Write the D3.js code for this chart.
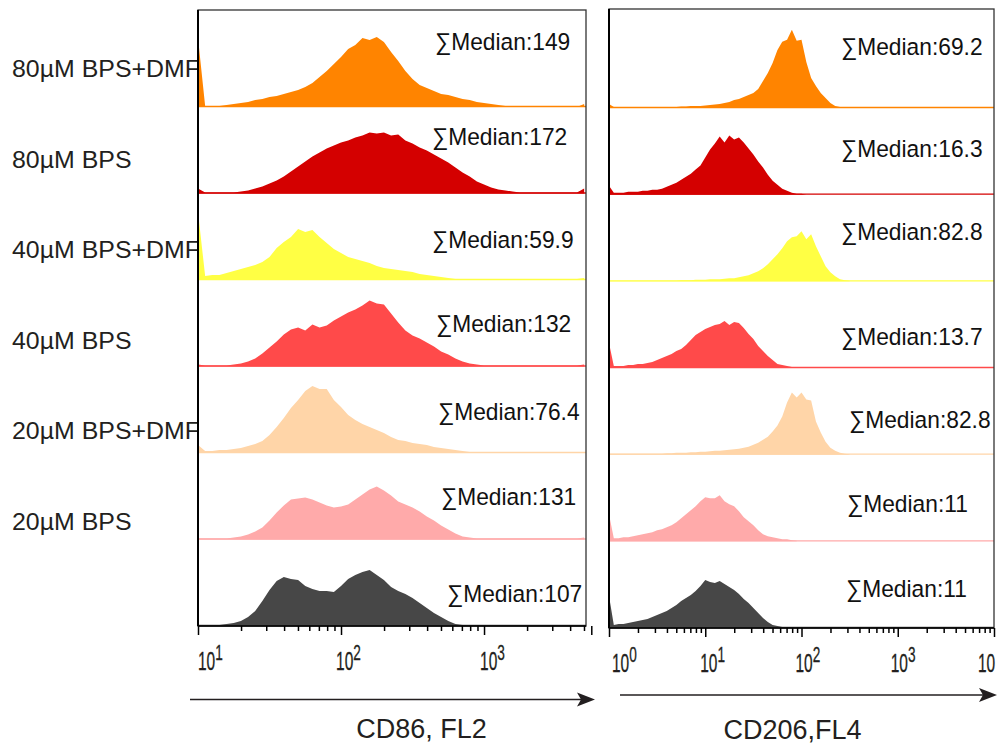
<!DOCTYPE html>
<html><head><meta charset="utf-8">
<script src="https://cdn.jsdelivr.net/npm/d3@7/dist/d3.min.js"></script>
<style>body{margin:0;background:#fff}svg{display:block}</style>
</head><body>
<svg id="c" width="997" height="744"></svg>
<script>
// ---------------- DATA ----------------
const rowLabels = ["80µM BPS+DMF","80µM BPS","40µM BPS+DMF","40µM BPS","20µM BPS+DMF","20µM BPS",""];
const cd86Medians  = ["149","172","59.9","132","76.4","131","107"];
const cd206Medians = ["69.2","16.3","82.8","13.7","82.8","11","11"];
const cd86TickExps  = [1,2,3];
const cd206TickExps = [0,1,2,3,4];
const cd206TickText = ["0","1","2","3",""];   // last exponent falls outside the picture
const xTitles = ["CD86, FL2","CD206,FL4"];

// histogram bins: log10 position of first bin and bin width (decades)
const cd86BinStart = 1.0, cd86BinStep = 0.05;
const cd206BinStart = 0.0, cd206BinStep = 0.05;

// CD86 (FL2) event counts per bin, rows top to bottom
const cd86_80DMF = [69,1,1,1,2,3,4,5,7,8, 10,11,13,15,17,20,24,30,36,43, 50,58,62,69,67,70,65,55,46,36, 28,22,19,16,13,12,10,8,7,5, 4,3,2,1,0,0,0,0,0,0, 0,0,0,0,3];
const cd86_80    = [5,1,1,1,1,1,2,3,5,7, 10,13,17,22,27,32,37,41,45,48, 51,53,56,58,61,60,61,58,59,53, 50,46,43,39,35,31,26,21,17,12, 9,6,4,3,2,1,1,1,1,1, 1,1,1,1,5];
const cd86_40DMF = [68,4,5,5,7,9,11,13,15,18, 23,32,38,43,51,48,50,43,37,31, 27,23,21,19,17,14,12,11,10,9, 8,6,5,4,3,2,1,1,1,1, 1,1,1,1,1,1,1,1,1,1, 1,1,1,1,2];
const cd86_40    = [2,1,1,1,1,2,3,5,8,13, 19,25,32,37,39,36,42,39,41,46, 50,54,57,61,66,63,62,53,44,36, 31,28,24,20,15,12,8,5,3,2, 1,1,1,1,1,1,1,1,1,1, 1,1,1,1,2];
const cd86_20DMF = [8,2,2,3,3,4,5,7,9,12, 18,26,35,45,53,62,67,64,64,53, 46,38,33,29,26,23,20,16,13,12, 10,9,8,6,5,4,3,2,1,1, 1,1,1,1,1,1,1,1,1,1, 1,1,1,1,1];
const cd86_20    = [1,1,1,1,1,2,3,5,8,12, 19,27,34,40,41,42,40,37,34,32, 33,35,40,45,50,53,49,44,38,35, 32,28,23,19,14,10,6,3,2,1, 1,1,1,1,1,1,1,1,1,1, 1,1,1,1,2];
const cd86_ctrl  = [0,0,0,1,2,3,5,9,15,25, 36,45,49,47,46,40,37,35,35,34, 40,47,51,54,56,51,46,39,35,32, 28,23,18,13,9,5,2,1,0,0, 0,0,0,0,0,0,0,0,0,0, 0,0,0,0,0];

// CD206 (FL4) event counts per bin, rows top to bottom
const cd206_80DMF = [4,1,0.5,0.5,0.5,0.5,0.5,0.5,1,1, 1,1,1,1,1,1.5,1.5,2,2,2, 2.5,3,3.5,4,5,6,8,9,11,13, 15,19,27,35,45,58,66,68,78,67, 68,46,30,22,15,10,5,2,1,0];
const cd206_80    = [9,2,2,2,3,3,3,4,4,5, 5,6,8,10,12,15,18,21,25,29, 37,45,51,58,52,59,55,57,52,46, 40,33,27,20,14,10,6,4,2,1, 1,0];
const cd206_40DMF = [0.5,0.5,0.5,0.5,0.5,0.5,0.5,0.5,0.5,0.5, 0.5,0.5,0.5,0.5,0.5,1,1,1,1.5,1.5, 1.5,2,2,2,2.5,3,3,4,5,6, 8,10,13,17,22,27,33,40,44,45, 50,42,47,35,25,15,9,5,2,1, 0.5];
const cd206_40    = [25,2,2,2,3,3,4,4,5,6, 8,10,12,14,17,19,23,28,33,36, 39,41,43,44,47,43,46,45,40,34, 29,22,17,12,8,4,3,2,1,0];
const cd206_20DMF = [1,1,1,1,1,1,1,1,1,1, 1,1,1.5,1.5,2,2,2,2.5,2.5,3, 3,3.5,4,4,4.5,5,5.5,6,7,8, 10,12,15,18,23,29,38,52,62,57, 62,55,54,33,22,13,7,4,2,1, 0.5];
const cd206_20    = [27,3,3,4,4,5,6,7,8,9, 11,12,14,16,19,23,27,31,35,40, 44,43,43,46,40,37,35,30,24,20, 16,11,7,5,4,3,2,2,1,0.5];
const cd206_ctrl  = [32,3,4,4,5,6,7,8,9,11, 13,15,17,20,23,27,30,33,37,42, 48,46,45,47,44,41,38,34,29,25, 20,15,10,6,3,2,1,0];

// ---------------- STYLE / LAYOUT ----------------
const rowColors = ["#FF8400","#D40000","#FFFF44","#FF4A4A","#FFD5A8","#FFAAAA","#474747"];
const ink = "#231f20";
const FONT = "'Liberation Sans', Arial, Helvetica, sans-serif";
const svg = d3.select("#c");

// row labels (drawn first, panels cover their overflow)
const labelY = d3.scaleLinear().domain([0,5]).range([77,530]);
rowLabels.forEach((t,i)=>{
  if(!t) return;
  svg.append("text").attr("transform",`translate(12,${labelY(i)}) scale(1.06,1)`)
    .attr("font-family",FONT).attr("font-size",23.5)
    .attr("fill",ink).text(t);
});

const panels = [
  { left:198, right:586, top:10, firstBase:107, bottom:626,
    domain:[10, Math.pow(10,3.713)], binStart:cd86BinStart, binStep:cd86BinStep,
    series:[cd86_80DMF,cd86_80,cd86_40DMF,cd86_40,cd86_20DMF,cd86_20,cd86_ctrl],
    medians:cd86Medians,
    medPos:[[435,50],[432,145],[432,248],[436,332],[438,420],[441,505],[447,602]],
    tickExps:cd86TickExps, tickText:cd86TickExps.map(String), tickDx:[0,-5,-4], labelY:670,
    endTick:Math.pow(10,3.75),
    arrow:{x0:190,x1:595,y:699.5}, title:xTitles[0], titleX:421.5, titleY:738 },
  { left:609, right:994, top:9, firstBase:108, bottom:628,
    domain:[1, 10000], binStart:cd206BinStart, binStep:cd206BinStep,
    series:[cd206_80DMF,cd206_80,cd206_40DMF,cd206_40,cd206_20DMF,cd206_20,cd206_ctrl],
    medians:cd206Medians,
    medPos:[[841,55],[841,157],[841,240],[841,345],[849,428],[847,512],[846,597]],
    tickExps:cd206TickExps, tickText:cd206TickText, tickDx:[3,-5,-6,-7,-16], labelY:672,
    endTick:null,
    arrow:{x0:620,x1:997,y:695}, title:xTitles[1], titleX:792.5, titleY:739 }
];

const defs = svg.append("defs");

panels.forEach((p,pi)=>{
  const x = d3.scaleLog().domain(p.domain).range([p.left,p.right]);
  const rowStep = (p.bottom - p.firstBase)/6;
  const base = i => p.firstBase + i*rowStep;
  const hs = d3.scaleLinear().domain([0,86.5]).range([0,rowStep]);
  const g = svg.append("g");

  g.append("rect").attr("x",p.left).attr("y",p.top)
    .attr("width",p.right-p.left).attr("height",p.bottom-p.top).attr("fill","#fff");

  const cid = "clip"+pi;
  defs.append("clipPath").attr("id",cid).append("rect")
    .attr("x",p.left).attr("y",p.top).attr("width",p.right-p.left).attr("height",p.bottom-p.top);
  const plot = g.append("g").attr("clip-path",`url(#${cid})`);

  p.series.forEach((vals,i)=>{
    const pts = vals.map((v,j)=>({v:Math.pow(10,p.binStart + j*p.binStep), c:v}));
    const area = d3.area().x(d=>x(d.v)).y0(base(i)).y1(d=>base(i)-hs(d.c));
    plot.append("path").datum(pts).attr("d",area).attr("fill",rowColors[i]);
    plot.append("line").attr("x1",p.left).attr("x2",p.right)
      .attr("y1",base(i)-0.5).attr("y2",base(i)-0.5)
      .attr("stroke",rowColors[i]).attr("stroke-width",1.3);
  });

  g.append("rect").attr("x",p.left).attr("y",p.top)
    .attr("width",p.right-p.left).attr("height",p.bottom-p.top)
    .attr("fill","none").attr("stroke","#333").attr("stroke-width",1.3);
  g.append("line").attr("x1",p.left).attr("x2",p.left).attr("y1",p.top).attr("y2",p.bottom)
    .attr("stroke","#000").attr("stroke-width",2);
  g.append("line").attr("x1",p.left).attr("x2",p.right).attr("y1",p.bottom).attr("y2",p.bottom)
    .attr("stroke","#000").attr("stroke-width",1.6);

  p.medians.forEach((m,i)=>{
    g.append("text").attr("transform",`translate(${p.medPos[i][0]},${p.medPos[i][1]}) scale(0.93,1)`)
      .attr("font-family",FONT).attr("font-size",24.5).attr("fill","#111")
      .text("∑Median:"+m);
  });

  const majors = p.tickExps.map(e=>Math.pow(10,e));
  const minors = [];
  p.tickExps.forEach(e=>{ [2,3,4,5,6,7,8,9].forEach(m=>{
    const v = m*Math.pow(10,e); if(v>p.domain[0] && v<p.domain[1]) minors.push(v); }); });
  const majAxis = d3.axisBottom(x).tickValues(p.endTick? majors.concat([p.endTick]) : majors)
    .tickSize(9).tickSizeOuter(0).tickFormat("");
  const minAxis = d3.axisBottom(x).tickValues(minors).tickSize(5).tickSizeOuter(0).tickFormat("");
  const ga = g.append("g").attr("transform",`translate(0,${p.bottom})`).call(majAxis);
  const gm = g.append("g").attr("transform",`translate(0,${p.bottom})`).call(minAxis);
  [ga,gm].forEach(a=>{ a.select(".domain").remove();
    a.selectAll(".tick line").attr("stroke","#000").attr("stroke-width",1.5); });

  p.tickExps.forEach((e,k)=>{
    const t = g.append("text")
      .attr("transform",`translate(${x(Math.pow(10,e))+p.tickDx[k]},${p.labelY}) scale(0.62,1)`)
      .attr("font-family",FONT).attr("font-size",25).attr("fill",ink)
      .attr("stroke",ink).attr("stroke-width",0.3);
    t.append("tspan").text("10");
    if(p.tickText[k]) t.append("tspan").attr("font-size",22).attr("dy",-10).text(p.tickText[k]);
  });

  const a = p.arrow;
  g.append("line").attr("x1",a.x0).attr("x2",a.x1-10).attr("y1",a.y).attr("y2",a.y)
    .attr("stroke",ink).attr("stroke-width",1.6);
  g.append("path").attr("d",`M${a.x1},${a.y} L${a.x1-18},${a.y-7} L${a.x1-14},${a.y} L${a.x1-18},${a.y+7} Z`)
    .attr("fill",ink);

  g.append("text").attr("x",p.titleX).attr("y",p.titleY).attr("text-anchor","middle")
    .attr("font-family",FONT).attr("font-size",27).attr("fill",ink).text(p.title);
});
</script>
</body></html>
